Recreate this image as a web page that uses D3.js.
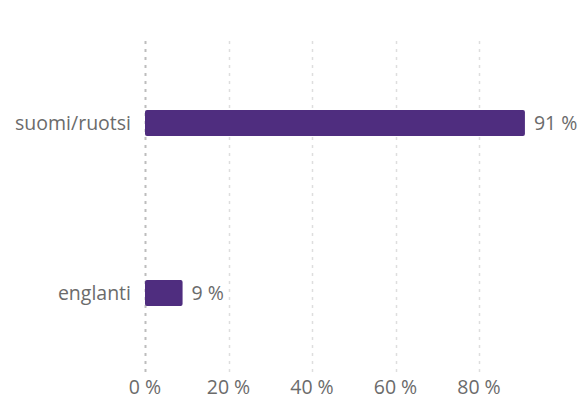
<!DOCTYPE html>
<html>
<head>
<meta charset="utf-8">
<script src="https://cdn.jsdelivr.net/npm/d3@7"></script>
<style>
  html, body { margin: 0; padding: 0; background: #fff; }
  svg text { font-family: "Open Sans", "Noto Sans", sans-serif; }
</style>
</head>
<body>
<svg id="chart" width="579" height="399"></svg>
<script>
const categories = ["suomi/ruotsi", "englanti"];
const values = [91, 9];
const tickValues = [0, 20, 40, 60, 80];

const svg = d3.select("#chart");
const x = d3.scaleLinear().domain([0, 100]).range([145, 562.5]);
const y = d3.scaleBand().domain(categories).range([38, 378]).padding(0);
const barH = 26;
const grey = "#6b6b6b";
const fs = 19.5;

// gridlines
svg.append("g").selectAll("line").data(tickValues).join("line")
  .attr("x1", d => Math.round(x(d)) + 0.5).attr("x2", d => Math.round(x(d)) + 0.5)
  .attr("y1", 41).attr("y2", 377)
  .attr("stroke", d => d === 0 ? "#bdbdbd" : "#dedede")
  .attr("stroke-width", d => d === 0 ? 2 : 1.5)
  .attr("stroke-dasharray", "3,5");

// tick labels
svg.append("g").selectAll("text").data(tickValues).join("text")
  .attr("x", d => x(d)).attr("y", 394)
  .attr("text-anchor", "middle")
  .attr("font-size", fs).attr("fill", grey)
  .text(d => d + " %");

// category labels
svg.append("g").selectAll("text").data(categories).join("text")
  .attr("x", 131).attr("y", d => y(d) + y.bandwidth() / 2)
  .attr("dy", "0.35em")
  .attr("text-anchor", "end")
  .attr("font-size", fs).attr("fill", grey)
  .text(d => d);

// bars
svg.append("g").selectAll("rect").data(values).join("rect")
  .attr("x", x(0))
  .attr("y", (d, i) => y(categories[i]) + y.bandwidth() / 2 - barH / 2)
  .attr("width", d => x(d) - x(0))
  .attr("height", barH)
  .attr("rx", 2).attr("ry", 2)
  .attr("fill", "#4f2d7f");

// value labels
svg.append("g").selectAll("text").data(values).join("text")
  .attr("x", d => x(d) + 9)
  .attr("y", (d, i) => y(categories[i]) + y.bandwidth() / 2)
  .attr("dy", "0.35em")
  .attr("font-size", fs).attr("fill", grey)
  .text(d => d + " %");
</script>
</body>
</html>
